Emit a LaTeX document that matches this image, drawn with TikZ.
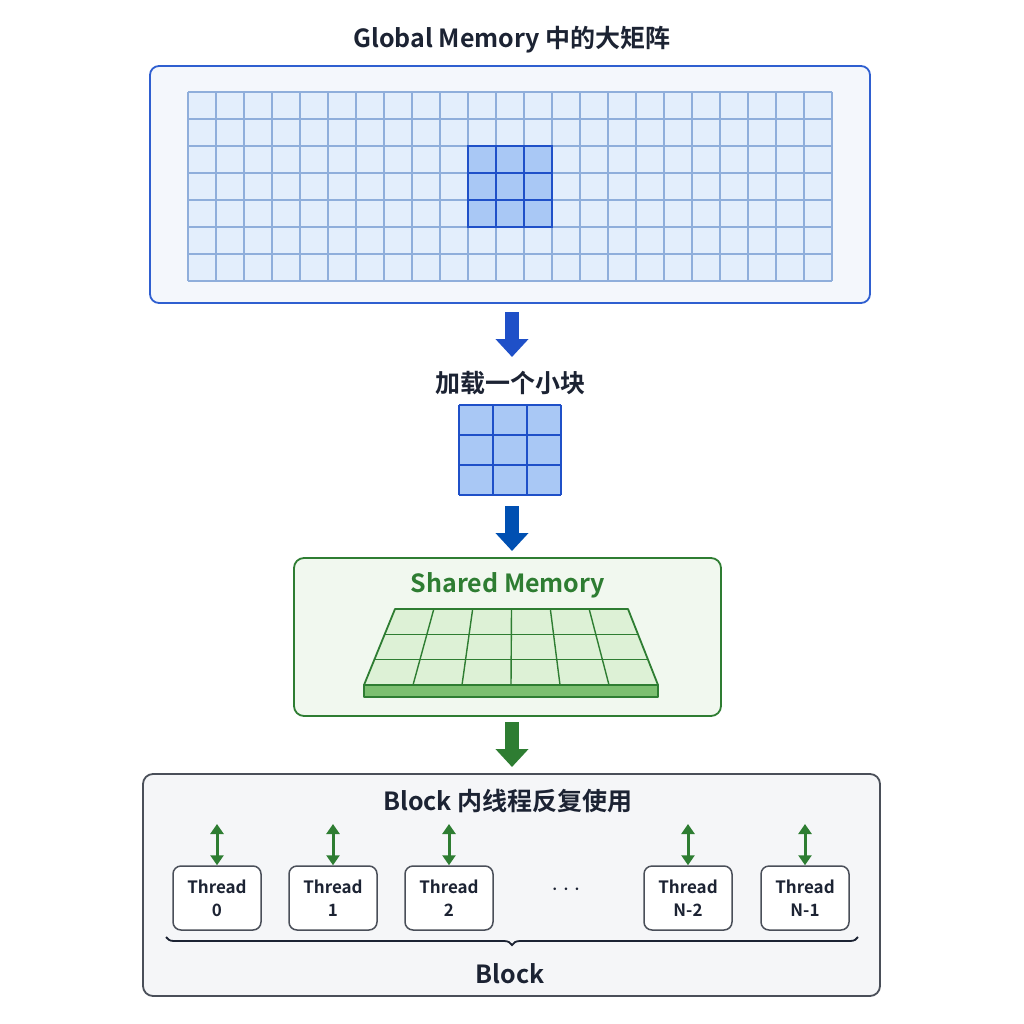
\documentclass[tikz,border=0pt]{standalone}
\usepackage{fontspec}
\setmainfont{Noto Sans CJK SC}[BoldFont={* Bold}]
\usetikzlibrary{arrows.meta,decorations.pathreplacing}
\definecolor{gb}{HTML}{2F5FD0}
\definecolor{gfill}{HTML}{F4F7FC}
\definecolor{cellb}{HTML}{E3EEFC}
\definecolor{cellline}{HTML}{8FAEDB}
\definecolor{hib}{HTML}{A9C8F5}
\definecolor{hiline}{HTML}{1F50C8}
\definecolor{gr}{HTML}{2E7D32}
\definecolor{grfill}{HTML}{F1F8EF}
\definecolor{grcell}{HTML}{DDF1D6}
\definecolor{grside}{HTML}{7CBF70}
\definecolor{dk}{HTML}{1C2333}
\definecolor{gy}{HTML}{4A4F59}
\definecolor{gyfill}{HTML}{F5F6F8}
\begin{document}
\begin{tikzpicture}[x=1pt,y=-1pt,
  ttl/.style={font=\fontsize{25}{28}\selectfont\bfseries,text=dk},
  bigarrow/.style={-{Triangle[width=32pt,length=18pt]},line width=14pt},
  dbl/.style={{Triangle[width=13pt,length=10pt]}-{Triangle[width=13pt,length=10pt]},line width=3pt,gr},
  thr/.style={draw=gy,line width=1.5pt,rounded corners=8pt,fill=white,minimum width=88pt,minimum height=64pt,align=center,font=\fontsize{17}{21}\selectfont\bfseries,text=dk,inner sep=0pt}]
\useasboundingbox (0,0) rectangle (1024,1024);
\fill[white] (0,0) rectangle (1024,1024);
% Global memory
\node[ttl] (gt) at (512,40) {Global Memory 中的大矩阵};
\node[draw=gb,line width=1.8pt,fill=gfill,rounded corners=9pt,minimum width=720pt,minimum height=237pt,inner sep=0pt] (gbox) at (510,184.5) {};
\fill[cellb] (188,92) rectangle (832,282);
\fill[hib] (468,146) rectangle (552,227);
\foreach \i in {0,...,23} \draw[cellline,line width=1.2pt] (188+\i*28,92) -- (188+\i*28,281);
\foreach \j in {0,...,7} \draw[cellline,line width=1.2pt] (188,92+\j*27) -- (832,92+\j*27);
\foreach \i in {0,...,3} \draw[hiline,line width=1.6pt] (468+\i*28,146) -- (468+\i*28,227);
\foreach \j in {0,...,3} \draw[hiline,line width=1.6pt] (468,146+\j*27) -- (552,146+\j*27);
\draw[hiline,line width=2pt] (468,146) rectangle (552,227);
% arrow 1
\coordinate (a1s) at (512,312); \coordinate (a1e) at (512,357);
\draw[bigarrow,color=hiline] (a1s) -- (a1e);
\node[ttl] (lt) at (510,383) {加载一个小块};
\fill[hib] (459,405) rectangle (561,495);
\foreach \i in {0,...,3} \draw[hiline,line width=1.6pt] (459+\i*34,405) -- (459+\i*34,495);
\foreach \j in {0,...,3} \draw[hiline,line width=1.6pt] (459,405+\j*30) -- (561,405+\j*30);
\node[inner sep=0pt,minimum width=102pt,minimum height=90pt] (tile) at (510,450) {};
\draw[bigarrow,color=blue!55!cyan!70!black] (512,506) -- (512,551);
% shared memory
\node[draw=gr,line width=1.8pt,fill=grfill,rounded corners=10pt,minimum width=427pt,minimum height=158pt,inner sep=0pt] (sbox) at (507.5,637) {};
\node[font=\fontsize{25}{28}\selectfont\bfseries,text=gr] (st) at (508,585) {Shared Memory};
\fill[grside,draw=gr,line width=1.8pt,line join=round] (364,685) -- (658,685) -- (658,697) -- (364,697) -- cycle;
\fill[grcell,draw=gr,line width=1.8pt,line join=round] (395,609) -- (628,609) -- (658,685) -- (364,685) -- cycle;
\foreach \j in {1,2} \draw[gr,line width=1.4pt] ({395-31*\j/3},{609+76*\j/3}) -- ({628+30*\j/3},{609+76*\j/3});
\foreach \i in {1,...,5} \draw[gr,line width=1.4pt] ({395+233*\i/6},609) -- ({364+294*\i/6},685);
\draw[bigarrow,color=gr] (512,722) -- (512,767);
% block
\node[draw=gy,line width=1.8pt,fill=gyfill,rounded corners=10pt,minimum width=737pt,minimum height=222pt,inner sep=0pt] (bbox) at (511.5,885) {};
\node[ttl] (bt) at (508,801) {Block 内线程反复使用};
\foreach \n/\x/\l in {t0/217/0,t1/333/1,t2/449/2,t3/688/N-2,t4/805/N-1}{
  \node[thr] (\n) at (\x,898) {Thread\\[2pt]\l};
  \coordinate (\n a) at (\x,824);
  \draw[dbl] (\n a) -- (\n.north);
}
\node[font=\fontsize{26}{28}\selectfont\bfseries,text=dk] (dots) at (566,890) {$\cdots$};
\coordinate (br1) at (166,937); \coordinate (br2) at (858,937);
\draw[dk,line width=1.8pt,decorate,decoration={brace,mirror,amplitude=8pt}] (br1) -- (br2);
\node[ttl] (blk) at (510,974) {Block};
\end{tikzpicture}
\end{document}
